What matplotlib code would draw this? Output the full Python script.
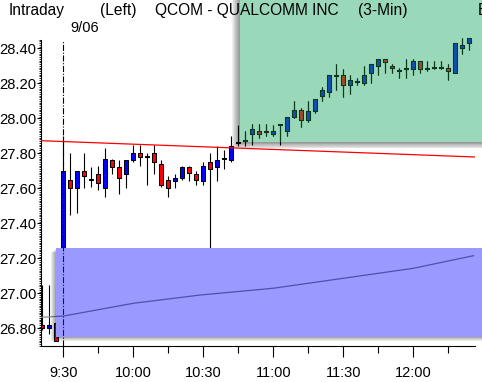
import numpy as np
import matplotlib
matplotlib.use("Agg")
import matplotlib.pyplot as plt
from matplotlib.patches import Rectangle
from matplotlib import patheffects as pe

plt.rcParams['font.family'] = ['Liberation Sans', 'DejaVu Sans']

# one slot = one 3-min bar, slot 0 = 9:30, slots -3..-1 = end of previous session
slots = list(range(-3, 59))
opens = [26.82, 26.80, 26.83,
         27.22, 27.65, 27.60, 27.70, 27.65, 27.68, 27.60, 27.76, 27.72, 27.68,
         27.76, 27.80, 27.78, 27.80, 27.74, 27.65, 27.64, 27.66, 27.72, 27.68,
         27.64, 27.75, 27.72, 27.77, 27.76, 27.86, 27.87, 27.91, 27.93, 27.93,
         27.91, 27.96, 27.93, 28.01, 28.05, 27.99, 28.04, 28.13, 28.15, 28.25,
         28.25, 28.19, 28.21, 28.20, 28.26, 28.30, 28.34, 28.30, 28.27, 28.28,
         28.28, 28.33, 28.28, 28.29, 28.29, 28.29, 28.26, 28.40, 28.43]
highs = [27.05, 27.05, 27.05,
         27.90, 27.80, 27.70, 27.80, 27.72, 27.73, 27.83, 27.77, 27.76, 27.76,
         27.85, 27.85, 27.80, 27.85, 27.76, 27.67, 27.68, 27.73, 27.73, 27.70,
         27.75, 27.80, 27.84, 27.82, 27.90, 27.96, 27.93, 27.97, 27.97, 27.97,
         27.96, 27.96, 28.01, 28.10, 28.06, 28.10, 28.11, 28.18, 28.25, 28.31,
         28.28, 28.25, 28.23, 28.30, 28.31, 28.34, 28.34, 28.31, 28.29, 28.34,
         28.34, 28.33, 28.33, 28.33, 28.33, 28.31, 28.43, 28.46, 28.46]
lows = [26.79, 26.77, 26.73,
        27.20, 27.45, 27.46, 27.60, 27.61, 27.59, 27.55, 27.68, 27.57, 27.60,
        27.75, 27.73, 27.62, 27.68, 27.61, 27.55, 27.60, 27.65, 27.64, 27.62,
        27.62, 27.24, 27.64, 27.71, 27.75, 27.84, 27.84, 27.85, 27.89, 27.90,
        27.90, 27.85, 27.90, 28.00, 27.95, 27.98, 28.03, 28.10, 28.12, 28.16,
        28.12, 28.14, 28.19, 28.19, 28.20, 28.25, 28.26, 28.26, 28.23, 28.23,
        28.25, 28.26, 28.27, 28.28, 28.28, 28.22, 28.26, 28.37, 28.39]
closes = [26.80, 26.82, 26.73,
          27.70, 27.60, 27.70, 27.67, 27.65, 27.63, 27.77, 27.72, 27.66, 27.76,
          27.80, 27.78, 27.78, 27.75, 27.62, 27.60, 27.66, 27.72, 27.69, 27.65,
          27.73, 27.71, 27.76, 27.77, 27.84, 27.86, 27.87, 27.94, 27.91, 27.92,
          27.93, 27.96, 28.01, 28.05, 27.99, 28.04, 28.11, 28.16, 28.25, 28.24,
          28.19, 28.22, 28.21, 28.25, 28.31, 28.34, 28.32, 28.29, 28.27, 28.28,
          28.33, 28.28, 28.29, 28.29, 28.29, 28.27, 28.43, 28.42, 28.46]

time_ticks = [0, 10, 20, 30, 40, 50]
time_labels = ['9:30', '10:00', '10:30', '11:00', '11:30', '12:00']
price_ticks = [26.80, 27.00, 27.20, 27.40, 27.60, 27.80, 28.00, 28.20, 28.40]

trend_x = [-3.2, 58.8]
trend_y = [27.872, 27.779]

avg_x = [-3.2, 0, 10, 19.5, 30, 40, 50, 58.6]
avg_y = [26.863, 26.870, 26.943, 26.990, 27.029, 27.086, 27.143, 27.215]

green_left, green_low = 25.24, 27.865
blue_left, blue_low, blue_high = -1.04, 26.752, 27.257


def draw_candles(ax, up, down, edge, z, clip=None):
    o = np.array(opens)
    c = np.array(closes)
    wicks = ax.vlines(slots, lows, highs, colors=edge, linewidth=0.8, zorder=z)
    faces = [up if cc > oo else (down if cc < oo else edge) for oo, cc in zip(o, c)]
    bottoms = np.minimum(o, c)
    heights = np.maximum(np.abs(c - o), 0.006)
    bars = ax.bar(slots, heights, bottom=bottoms, width=0.62, color=faces,
                  edgecolor=edge, linewidth=0.75, zorder=z + 0.1)
    if clip is not None:
        wicks.set_clip_path(clip)
        for b in bars:
            b.set_clip_path(clip)


def shadow(n, step, alpha):
    return [pe.SimplePatchShadow(offset=(-k * step, -k * step * 0.8),
                                 shadow_rgbFace='k', alpha=alpha) for k in range(1, n + 1)] + [pe.Normal()]


fig = plt.figure(figsize=(4.82, 3.82), dpi=100)
ax = fig.add_axes([41 / 482, 36 / 382, 434 / 482, 346 / 382])
ax.set_xlim(-3.186, 58.81)
ax.set_ylim(26.699, 28.676)

green = Rectangle((green_left, green_low), 40, 2, facecolor='#99d9b9', edgecolor='none',
                  zorder=1, clip_on=False, path_effects=shadow(8, 0.72, 0.06))
ax.add_patch(green)
blue = Rectangle((blue_left, blue_low), 70, blue_high - blue_low, facecolor='#9999ff',
                 edgecolor='none', zorder=4, clip_on=False, path_effects=shadow(5, 0.72, 0.08))
ax.add_patch(blue)

draw_candles(ax, '#0000ff', '#ff0000', 'black', 2)
draw_candles(ax, '#0c50b0', '#a04828', '#0c3a1c', 3, clip=green)

ax.plot(trend_x, trend_y, color='#ff0000', linewidth=0.9, zorder=5)

ax.plot(avg_x, avg_y, color='#8a8a96', linewidth=0.9, zorder=3)
avg_in = ax.plot(avg_x, avg_y, color='#5050a8', linewidth=0.9, zorder=5)[0]
avg_in.set_clip_path(blue)

ax.plot([0, 0], [26.699, 28.447], color='black', linewidth=0.8,
        linestyle=(0, (5.5, 1.5, 1, 1.5)), zorder=3)
day_in = ax.plot([0, 0], [26.699, 28.447], color='#101070', linewidth=0.8,
                 linestyle=(0, (5.5, 1.5, 1, 1.5)), zorder=5)[0]
day_in.set_clip_path(blue)

ax.spines['top'].set_visible(False)
ax.spines['right'].set_visible(False)
ax.spines['left'].set_bounds(26.699, 28.447)

ax.set_yticks(price_ticks)
ax.set_yticklabels(['%.2f' % p for p in price_ticks])
ax.set_yticks(np.arange(26.70, 28.455, 0.01), minor=True)
ax.set_xticks(time_ticks)
ax.set_xticklabels(time_labels)
ax.set_xticks([5, 15, 25, 35, 45, 55], minor=True)

ax.tick_params(axis='y', which='major', length=3, width=0.8, pad=0.5, labelsize=10.6)
ax.tick_params(axis='y', which='minor', length=1.8, width=0.6)
ax.tick_params(axis='x', which='major', length=8, width=0.8, pad=6.5, labelsize=10.5)
ax.tick_params(axis='x', which='minor', length=5, width=0.8)

def px_text(x, y, s, size=11.2):
    fig.text(x / 482, 1 - y / 382, s, fontsize=size, va='baseline', ha='left')

px_text(9, 15, 'Intraday')
px_text(100, 15, '(Left)')
px_text(155, 15, 'QCOM - QUALCOMM INC')
px_text(358, 15, '(3-Min)')
px_text(478, 15, 'E')
px_text(70, 32.5, '9/06', size=10.5)

fig.savefig('out.png', dpi=100)
